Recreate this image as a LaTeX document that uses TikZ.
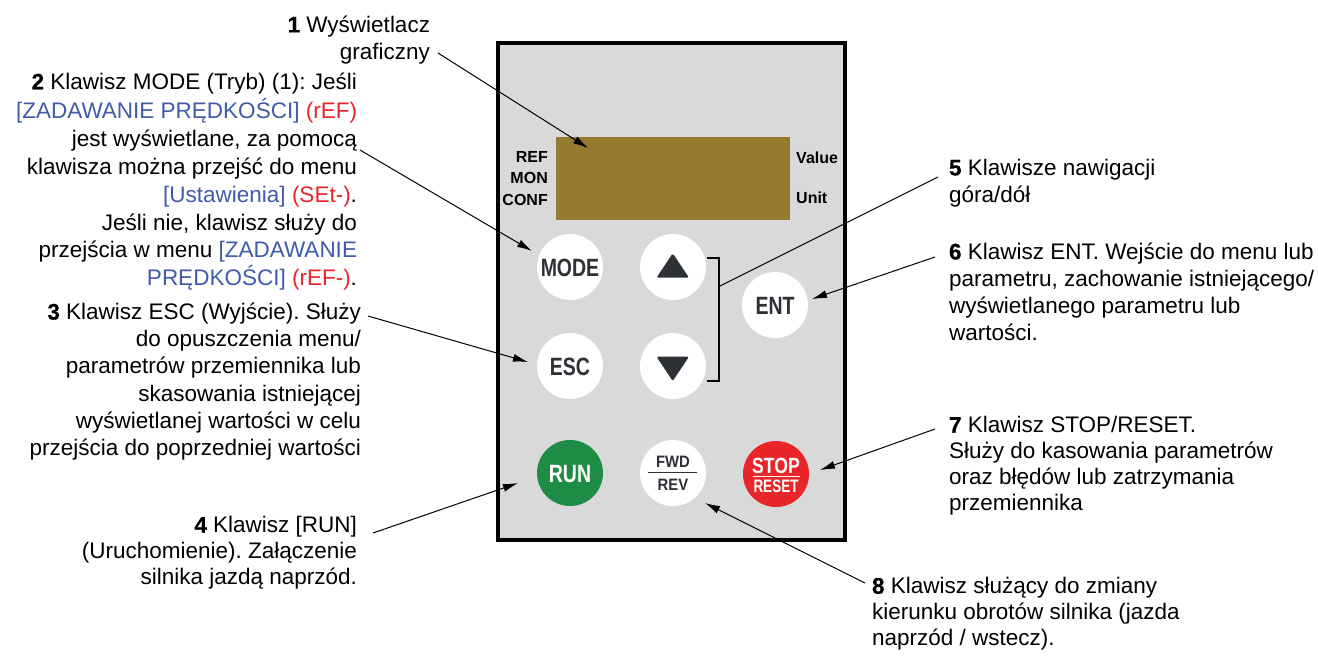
\documentclass[tikz,border=0pt]{standalone}
\usepackage{fontspec}
\setmainfont{Liberation Sans}
\newfontfamily\numfont[UprightFont={* Bold},FakeBold=0.6]{Liberation Sans}
\usetikzlibrary{arrows.meta}
\definecolor{panelgray}{HTML}{DAD9DA}
\definecolor{lcd}{HTML}{957B30}
\definecolor{keytext}{HTML}{2D3136}
\definecolor{rungreen}{HTML}{1E8C45}
\definecolor{stopred}{HTML}{E8262A}
\definecolor{menublue}{HTML}{3F5BA9}
\definecolor{codered}{HTML}{E8262A}
\newcommand{\itemno}[1]{{\numfont #1}}
\tikzset{
  desc/.style={inner sep=0pt, outer sep=0pt},
  leftdesc/.style={desc, anchor=north east, align=right},
  rightdesc/.style={desc, anchor=north west, align=left},
  key/.style={circle, fill=white, minimum size=66pt, inner sep=0pt, text=keytext,
    font=\fontsize{25}{25}\selectfont\bfseries, text height=18pt, text depth=0pt},
  smalllbl/.style={inner sep=0pt, font=\fontsize{16}{16}\selectfont\bfseries, text height=11.5pt, text depth=0pt},
  leader/.style={line width=1pt, draw=black},
  leadarrow/.style={leader, -{Latex[length=15pt,width=8pt]}}
}
\begin{document}
\frenchspacing
\begin{tikzpicture}[x=1pt,y=-1pt]
\useasboundingbox (0,0) rectangle (1318,657);

% panel
\draw[fill=panelgray, line width=3.2pt] (498,43) rectangle (845,540);
\fill[lcd] (556,137) rectangle (790,220);
\node[smalllbl, anchor=east] (lref) at (548,157) {REF};
\node[smalllbl, anchor=east] (lmon) at (548,178) {MON};
\node[smalllbl, anchor=east] (lconf) at (548,200) {CONF};
\node[smalllbl, anchor=west] (lval) at (796,158) {Value};
\node[smalllbl, anchor=west] (lunit) at (796,198) {Unit};

% keys
\node[key] (mode) at (570,267) {\scalebox{0.78}[1]{MODE}};
\node[key] (up) at (673,267) {};
\node[key] (ent) at (775,305) {\scalebox{0.78}[1]{ENT}};
\node[key] (esc) at (570,366) {\scalebox{0.78}[1]{ESC}};
\node[key] (down) at (673,366) {};
\node[key, fill=rungreen, text=white] (run) at (570,473) {\scalebox{0.78}[1]{RUN}};
\node[key] (fwd) at (673,473) {};
\node[key, fill=stopred] (stop) at (776,474) {};

\fill[keytext, rounded corners=1.5pt] (656.5,277.7) -- (672.7,253.3) -- (689,277.7) -- cycle;
\fill[keytext, rounded corners=1.5pt] (656.5,356.7) -- (672.7,381) -- (689,356.7) -- cycle;

\node[inner sep=0pt, text=keytext, font=\fontsize{16.5}{16.5}\selectfont\bfseries, text height=12pt, text depth=0pt] (fwdt) at (673,461) {\scalebox{0.9}[1]{FWD}};
\node[inner sep=0pt, text=keytext, font=\fontsize{16.5}{16.5}\selectfont\bfseries, text height=12pt, text depth=0pt] (revt) at (673,484) {\scalebox{0.9}[1]{REV}};
\draw[keytext, line width=1.3pt] (648,472.5) -- (697,472.5);

\node[inner sep=0pt, text=white, font=\fontsize{22}{22}\selectfont\bfseries, text height=16pt, text depth=0pt] (stopt) at (776,465.5) {\scalebox{0.8}[1]{STOP}};
\node[inner sep=0pt, text=white, font=\fontsize{18}{18}\selectfont\bfseries, text height=13pt, text depth=0pt] (resett) at (776,485.5) {\scalebox{0.75}[1]{RESET}};
\draw[white, line width=0.8pt] (753,476) -- (800,476);

% bracket
\draw[line width=2pt] (707,258) -- (719,258) -- (719,381) -- (707,381);
\coordinate (bmid) at (719,286.5);

% descriptions left
\node[leftdesc, font=\fontsize{22.5}{27}\selectfont] (d1) at (430,13.5) {\strut\itemno{1} Wyświetlacz\\graficzny};
\node[leftdesc, font=\fontsize{22.5}{27.8}\selectfont] (d2) at (357,70) {\strut\itemno{2} Klawisz MODE (Tryb) (1): Jeśli\\
\textcolor{menublue}{[ZADAWANIE PRĘDKOŚCI]} \textcolor{codered}{(rEF)}\\
jest wyświetlane, za pomocą\\
klawisza można przejść do menu\\
\textcolor{menublue}{[Ustawienia]} \textcolor{codered}{(SEt-)}.\\
Jeśli nie, klawisz służy do\\
przejścia w menu \textcolor{menublue}{[ZADAWANIE}\\
\textcolor{menublue}{PRĘDKOŚCI]} \textcolor{codered}{(rEF-)}.};
\node[leftdesc, font=\fontsize{22.5}{27.2}\selectfont] (d3) at (361,300.5) {\strut\itemno{3} Klawisz ESC (Wyjście). Służy\\
do opuszczenia menu/\\
parametrów przemiennika lub\\
skasowania istniejącej\\
wyświetlanej wartości w celu\\
przejścia do poprzedniej wartości};
\node[leftdesc, font=\fontsize{22.5}{26}\selectfont] (d4) at (357,514.5) {\strut\itemno{4} Klawisz [RUN]\\
(Uruchomienie). Załączenie\\
silnika jazdą naprzód.};

% descriptions right
\node[rightdesc, font=\fontsize{22.5}{27}\selectfont] (d5) at (949,156.5) {\strut\itemno{5} Klawisze nawigacji\\góra/dół};
\node[rightdesc, font=\fontsize{22.5}{27}\selectfont] (d6) at (949,240.5) {\strut\itemno{6} Klawisz ENT. Wejście do menu lub\\
parametru, zachowanie istniejącego/\\
wyświetlanego parametru lub\\
wartości.};
\node[rightdesc, font=\fontsize{22.5}{26}\selectfont] (d7) at (949,414.5) {\strut\itemno{7} Klawisz STOP/RESET.\\
Służy do kasowania parametrów\\
oraz błędów lub zatrzymania\\
przemiennika};
\node[rightdesc, font=\fontsize{22.5}{26}\selectfont] (d8) at (872,575.5) {\strut\itemno{8} Klawisz służący do zmiany\\
kierunku obrotów silnika (jazda\\
naprzód / wstecz).};

% leader end points
\coordinate (s1) at (438,53);  \coordinate (e1) at (588,148);
\coordinate (s2) at (360,150); \coordinate (e2) at (532,251);
\coordinate (s3) at (368,316); \coordinate (e3) at (528,362);
\coordinate (s4) at (373,533); \coordinate (e4) at (518,483);
\coordinate (s5) at (938,177);
\coordinate (s6) at (935,257); \coordinate (e6) at (812,299);
\coordinate (s7) at (935,429); \coordinate (e7) at (820,470);
\coordinate (s8) at (865,583); \coordinate (e8) at (705,503);

\draw[leadarrow] (s1) -- (e1);
\draw[leadarrow] (s2) -- (e2);
\draw[leadarrow] (s3) -- (e3);
\draw[leadarrow] (s4) -- (e4);
\draw[leader] (bmid) -- (s5);
\draw[leadarrow] (s6) -- (e6);
\draw[leadarrow] (s7) -- (e7);
\draw[leadarrow] (s8) -- (e8);
\end{tikzpicture}
\end{document}
